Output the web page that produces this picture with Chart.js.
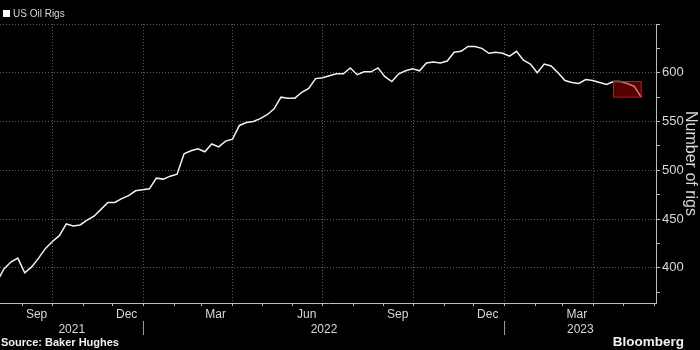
<!DOCTYPE html>
<html lang="en">
<head>
    <meta charset="UTF-8">
    <title>US Oil Rigs</title>
    <script src="https://cdn.jsdelivr.net/npm/chart.js"></script>
    <style>
        body { margin: 0; background: #000; }
        canvas { display: block; }
    </style>
</head>
<body>
    <canvas id="rigChart" width="700" height="350"></canvas>
    <script>
        // weekly Baker Hughes counts (Fridays)
        const weeks = [
            '2021-08-06', '2021-08-13', '2021-08-20', '2021-08-27',
            '2021-09-03', '2021-09-10', '2021-09-17', '2021-09-24',
            '2021-10-01', '2021-10-08', '2021-10-15', '2021-10-22', '2021-10-29',
            '2021-11-05', '2021-11-12', '2021-11-19', '2021-11-26',
            '2021-12-03', '2021-12-10', '2021-12-17', '2021-12-24', '2021-12-31',
            '2022-01-07', '2022-01-14', '2022-01-21', '2022-01-28',
            '2022-02-04', '2022-02-11', '2022-02-18', '2022-02-25',
            '2022-03-04', '2022-03-11', '2022-03-18', '2022-03-25',
            '2022-04-01', '2022-04-08', '2022-04-15', '2022-04-22', '2022-04-29',
            '2022-05-06', '2022-05-13', '2022-05-20', '2022-05-27',
            '2022-06-03', '2022-06-10', '2022-06-17', '2022-06-24',
            '2022-07-01', '2022-07-08', '2022-07-15', '2022-07-22', '2022-07-29',
            '2022-08-05', '2022-08-12', '2022-08-19', '2022-08-26',
            '2022-09-02', '2022-09-09', '2022-09-16', '2022-09-23', '2022-09-30',
            '2022-10-07', '2022-10-14', '2022-10-21', '2022-10-28',
            '2022-11-04', '2022-11-11', '2022-11-18', '2022-11-25',
            '2022-12-02', '2022-12-09', '2022-12-16', '2022-12-23', '2022-12-30',
            '2023-01-06', '2023-01-13', '2023-01-20', '2023-01-27',
            '2023-02-03', '2023-02-10', '2023-02-17', '2023-02-24',
            '2023-03-03', '2023-03-10', '2023-03-17', '2023-03-24', '2023-03-31',
            '2023-04-07', '2023-04-14', '2023-04-21', '2023-04-28',
            '2023-05-05', '2023-05-12', '2023-05-19'
        ];
        const oilRigs = [
            386, 399, 406, 410,
            395, 401, 410, 420,
            427, 433, 445, 443, 444,
            449, 453, 460, 467,
            467, 471, 474, 479, 480,
            481, 492, 491, 494,
            496, 517, 520, 522,
            519, 527, 524, 530,
            532, 546, 549, 550, 553,
            557, 563, 575, 574,
            574, 580, 584, 594,
            595, 597, 599, 599, 605,
            598, 601, 601, 605,
            596, 591, 599, 602, 604,
            602, 610, 611, 610,
            612, 621, 622, 627,
            627, 625, 620, 621, 620,
            617, 622, 613, 609,
            600, 609, 607, 600,
            592, 590, 589, 593, 592,
            590, 588, 591, 591,
            589, 586, 575
        ];
        const monthLabels = ['Sep', 'Dec', 'Mar', 'Jun', 'Sep', 'Dec', 'Mar'];
        const monthLabelStarts = ['2021-09', '2021-12', '2022-03', '2022-06', '2022-09', '2022-12', '2023-03'];
        const yearLabels = ['2021', '2022', '2023'];
        const yTicks = [375, 400, 425, 450, 475, 500, 525, 550, 575, 600, 625, 650];
        const yLabelled = [400, 450, 500, 550, 600];
        // the drop of the last four weeks is boxed in red
        const highlight = { from: '2023-04-21', to: '2023-05-19', low: 575, high: 591 };

        const FONT = "'Liberation Sans', Arial, sans-serif";
        const TEXT = '#d8d8d8';
        const GRID = '#5a5a5a';
        const AXIS = '#bdbdbd';

        const DAY = 86400000;
        const ORIGIN = Date.UTC(2022, 0, 1);
        const toDay = s => (Date.parse(s) - ORIGIN) / DAY;

        const xMin = toDay('2021-08-09');
        const xMax = toDay('2023-06-03');

        // month starts carry a tick mark, quarter starts a grid line,
        // mid-month ticks carry the month name
        const xTicks = [];
        for (let y = 2021, m = 8; y < 2023 || m <= 5; m++) {
            if (m > 11) { m = 0; y++; }
            const key = y + '-' + String(m + 1).padStart(2, '0');
            xTicks.push({ value: toDay(key + '-01'), mark: true, grid: m % 3 === 0, label: '' });
            const li = monthLabelStarts.indexOf(key);
            if (li >= 0) xTicks.push({ value: toDay(key + '-15'), mark: false, grid: false, label: monthLabels[li] });
        }
        xTicks.sort((a, b) => a.value - b.value);

        const yearBounds = [xMin, toDay('2022-01-01'), toDay('2023-01-01'), xMax];
        const yearTicks = [];
        yearLabels.forEach((label, i) => {
            yearTicks.push({ value: (yearBounds[i] + yearBounds[i + 1]) / 2, mark: false, label: label });
            if (i > 0) yearTicks.push({ value: yearBounds[i], mark: true, label: '' });
        });
        yearTicks.sort((a, b) => a.value - b.value);

        const points = weeks.map((w, i) => ({ x: toDay(w), y: oilRigs[i] }));

        const legendPlugin = {
            id: 'rigLegend',
            afterDraw(chart) {
                const c = chart.ctx;
                c.save();
                c.fillStyle = '#ffffff';
                c.fillRect(3, 10, 7, 7);
                c.fillStyle = TEXT;
                c.font = '10px ' + FONT;
                c.textBaseline = 'middle';
                c.fillText(chart.data.datasets[0].label, 13, 14);
                c.restore();
            }
        };

        const highlightPlugin = {
            id: 'dropBox',
            afterDatasetsDraw(chart) {
                const { x, y } = chart.scales;
                const x1 = x.getPixelForValue(toDay(highlight.from));
                const x2 = x.getPixelForValue(toDay(highlight.to));
                const y1 = y.getPixelForValue(highlight.high);
                const y2 = y.getPixelForValue(highlight.low);
                const c = chart.ctx;
                c.save();
                c.fillStyle = 'rgba(170, 0, 0, 0.5)';
                c.fillRect(x1, y1, x2 - x1, y2 - y1);
                c.strokeStyle = '#c81414';
                c.lineWidth = 1;
                c.strokeRect(x1, y1, x2 - x1, y2 - y1);
                c.restore();
            }
        };

        const footerPlugin = {
            id: 'footer',
            afterDraw(chart) {
                const c = chart.ctx;
                c.save();
                c.textBaseline = 'middle';
                c.fillStyle = '#f0f0f0';
                c.font = 'bold 11px ' + FONT;
                c.textAlign = 'left';
                c.fillText('Source: Baker Hughes', 1, 343);
                c.font = 'bold 13.5px ' + FONT;
                c.textAlign = 'right';
                c.fillText('Bloomberg', 684, 342);
                c.restore();
            }
        };

        const chart = new Chart(document.getElementById('rigChart'), {
            type: 'line',
            data: {
                datasets: [{
                    label: 'US Oil Rigs',
                    data: points,
                    borderColor: '#f2f2f2',
                    borderWidth: 1.5,
                    pointRadius: 0,
                    tension: 0
                }]
            },
            options: {
                responsive: false,
                animation: false,
                layout: { padding: { top: 24, bottom: 12, left: 0, right: 0 } },
                plugins: {
                    legend: { display: false },
                    tooltip: { enabled: false }
                },
                scales: {
                    x: {
                        type: 'linear',
                        position: 'bottom',
                        weight: 0,
                        min: xMin,
                        max: xMax,
                        afterBuildTicks: s => { s.ticks = xTicks.map(t => ({ value: t.value })); },
                        afterFit: s => { s.height = 18; },
                        ticks: {
                            autoSkip: false,
                            maxRotation: 0,
                            padding: 1,
                            color: TEXT,
                            font: { family: FONT, size: 12 },
                            callback: (v, i) => xTicks[i].label
                        },
                        grid: {
                            color: c => (c.index !== undefined && xTicks[c.index] && xTicks[c.index].grid) ? GRID : 'transparent',
                            tickColor: c => (c.index !== undefined && xTicks[c.index] && xTicks[c.index].mark) ? AXIS : 'transparent',
                            tickLength: 3
                        },
                        border: { color: AXIS, width: 1, dash: [1, 2] }
                    },
                    years: {
                        type: 'linear',
                        position: 'bottom',
                        weight: 1,
                        min: xMin,
                        max: xMax,
                        afterBuildTicks: s => { s.ticks = yearTicks.map(t => ({ value: t.value })); },
                        afterFit: s => { s.height = 17; },
                        ticks: {
                            autoSkip: false,
                            maxRotation: 0,
                            padding: -13,
                            color: TEXT,
                            font: { family: FONT, size: 12 },
                            callback: (v, i) => yearTicks[i].label
                        },
                        grid: {
                            drawOnChartArea: false,
                            color: 'transparent',
                            tickColor: c => (c.index !== undefined && yearTicks[c.index] && yearTicks[c.index].mark) ? '#9a9a9a' : 'transparent',
                            tickLength: 14
                        },
                        border: { display: false }
                    },
                    y: {
                        position: 'right',
                        min: 364,
                        max: 650,
                        afterBuildTicks: s => { s.ticks = yTicks.map(v => ({ value: v })); },
                        afterFit: s => { s.width = 44; },
                        ticks: {
                            padding: 2,
                            color: TEXT,
                            font: { family: FONT, size: 13 },
                            callback: v => yLabelled.includes(v) ? String(v) : ''
                        },
                        grid: {
                            color: c => (c.tick && c.tick.value % 50 === 0) ? GRID : 'transparent',
                            tickColor: AXIS,
                            tickLength: 4
                        },
                        border: { color: AXIS, width: 1, dash: [1, 2] },
                        title: {
                            display: true,
                            text: 'Number of rigs',
                            color: TEXT,
                            font: { family: FONT, size: 16 },
                            padding: { top: 0, bottom: 0 }
                        }
                    }
                }
            },
            plugins: [legendPlugin, highlightPlugin, footerPlugin]
        });
    </script>
</body>
</html>
